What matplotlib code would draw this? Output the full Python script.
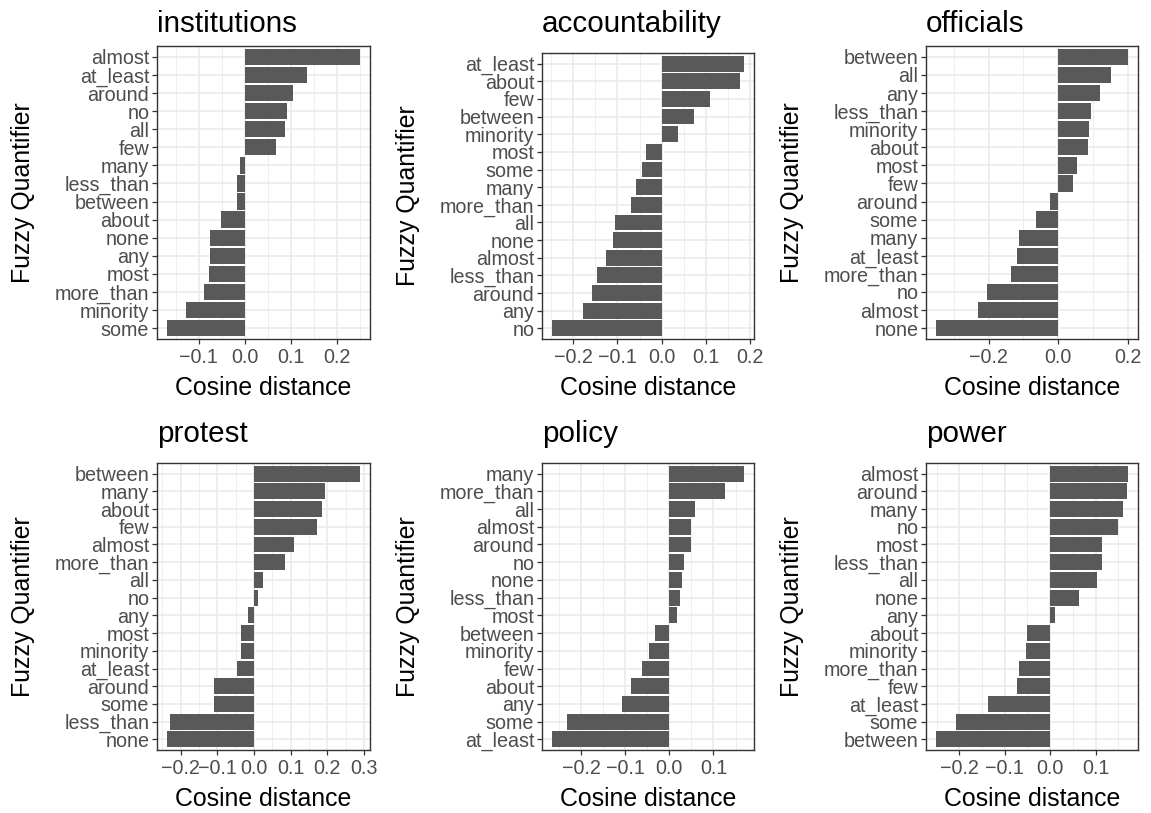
import matplotlib
matplotlib.use("Agg")
import matplotlib.pyplot as plt
from matplotlib.ticker import MultipleLocator, FuncFormatter

plt.rcParams['font.family'] = ['Liberation Sans', 'DejaVu Sans']

# data, each list ordered top to bottom as shown
titles = ["institutions", "accountability", "officials", "protest", "policy", "power"]

institutions_q = ["almost", "at_least", "around", "no", "all", "few", "many", "less_than",
                  "between", "about", "none", "any", "most", "more_than", "minority", "some"]
institutions_v = [0.251, 0.134, 0.104, 0.091, 0.087, 0.067, -0.011, -0.017,
                  -0.017, -0.052, -0.076, -0.076, -0.078, -0.089, -0.128, -0.170]

accountability_q = ["at_least", "about", "few", "between", "minority", "most", "some", "many",
                    "more_than", "all", "none", "almost", "less_than", "around", "any", "no"]
accountability_v = [0.187, 0.176, 0.109, 0.074, 0.036, -0.035, -0.044, -0.058,
                    -0.069, -0.105, -0.110, -0.127, -0.146, -0.157, -0.177, -0.249]

officials_q = ["between", "all", "any", "less_than", "minority", "about", "most", "few",
               "around", "some", "many", "at_least", "more_than", "no", "almost", "none"]
officials_v = [0.201, 0.152, 0.121, 0.095, 0.087, 0.084, 0.055, 0.041,
               -0.023, -0.064, -0.114, -0.118, -0.135, -0.204, -0.230, -0.352]

protest_q = ["between", "many", "about", "few", "almost", "more_than", "all", "no",
             "any", "most", "minority", "at_least", "around", "some", "less_than", "none"]
protest_v = [0.290, 0.195, 0.186, 0.173, 0.110, 0.085, 0.025, 0.012,
             -0.017, -0.034, -0.036, -0.047, -0.110, -0.110, -0.229, -0.238]

policy_q = ["many", "more_than", "all", "almost", "around", "no", "none", "less_than",
            "most", "between", "minority", "few", "about", "any", "some", "at_least"]
policy_v = [0.170, 0.127, 0.059, 0.048, 0.048, 0.032, 0.028, 0.023,
            0.017, -0.032, -0.047, -0.061, -0.086, -0.107, -0.233, -0.267]

power_q = ["almost", "around", "many", "no", "most", "less_than", "all", "none",
           "any", "about", "minority", "more_than", "few", "at_least", "some", "between"]
power_v = [0.172, 0.170, 0.161, 0.150, 0.113, 0.113, 0.102, 0.063,
           0.010, -0.050, -0.053, -0.069, -0.072, -0.136, -0.208, -0.252]

quantifiers = [institutions_q, accountability_q, officials_q, protest_q, policy_q, power_q]
values = [institutions_v, accountability_v, officials_v, protest_v, policy_v, power_v]
steps = [0.1, 0.1, 0.2, 0.1, 0.1, 0.1]

W, H = 1151, 813
fig = plt.figure(figsize=(W / 100, H / 100), dpi=100)

# panel boxes in pixels: left, right, top, bottom
lefts = [157, 542, 926]
rights = [370, 754, 1138]
tops = [46, 53, 46, 463, 463, 463]
bottoms = [339, 339, 339, 750, 750, 750]
title_base = [31.7, 31.7, 31.7, 442.5, 442.5, 442.5]


def fmt(v, pos):
    if abs(v) < 1e-9:
        return "0.0"
    return f"{v:.1f}".replace("-", "\u2212")


for i in range(6):
    col = i % 3
    l, r, t, b = lefts[col], rights[col], tops[i], bottoms[i]
    ax = fig.add_axes([l / W, 1 - b / H, (r - l) / W, (b - t) / H])
    q = quantifiers[i]
    v = values[i]
    n = len(q)
    pos = list(range(n - 1, -1, -1))
    ax.barh(pos, v, height=0.9, color="#595959", zorder=2)
    ax.set_yticks(range(n))
    ax.set_yticklabels(q[::-1])
    ax.set_ylim(-0.6, n - 1 + 0.6)
    lo, hi = min(v + [0]), max(v + [0])
    pad = 0.05 * (hi - lo)
    ax.set_xlim(lo - pad, hi + pad)
    ax.xaxis.set_major_locator(MultipleLocator(steps[i]))
    ax.xaxis.set_minor_locator(MultipleLocator(steps[i] / 2))
    ax.xaxis.set_major_formatter(FuncFormatter(fmt))
    ax.grid(which="major", color="#EBEBEB", linewidth=1.2, zorder=0)
    ax.grid(which="minor", axis="x", color="#EBEBEB", linewidth=0.6, zorder=0)
    ax.set_axisbelow(True)
    for s in ax.spines.values():
        s.set_color("#333333")
        s.set_linewidth(1.0)
    ax.tick_params(which="major", direction="out", length=3.6, width=0.9,
                   color="#333333", labelcolor="#4D4D4D", labelsize=14.2, pad=2)
    ax.tick_params(axis="x", which="major", pad=3)
    ax.tick_params(which="minor", length=0)
    ax.set_xlabel("Cosine distance", fontsize=17.9, color="black", labelpad=6.5)
    ax.set_ylabel("Fuzzy Quantifier", fontsize=17.9, color="black", labelpad=14)
    fig.text(l / W, 1 - title_base[i] / H, titles[i], fontsize=21.3,
             ha="left", va="baseline")

fig.savefig("out.png", dpi=100)
